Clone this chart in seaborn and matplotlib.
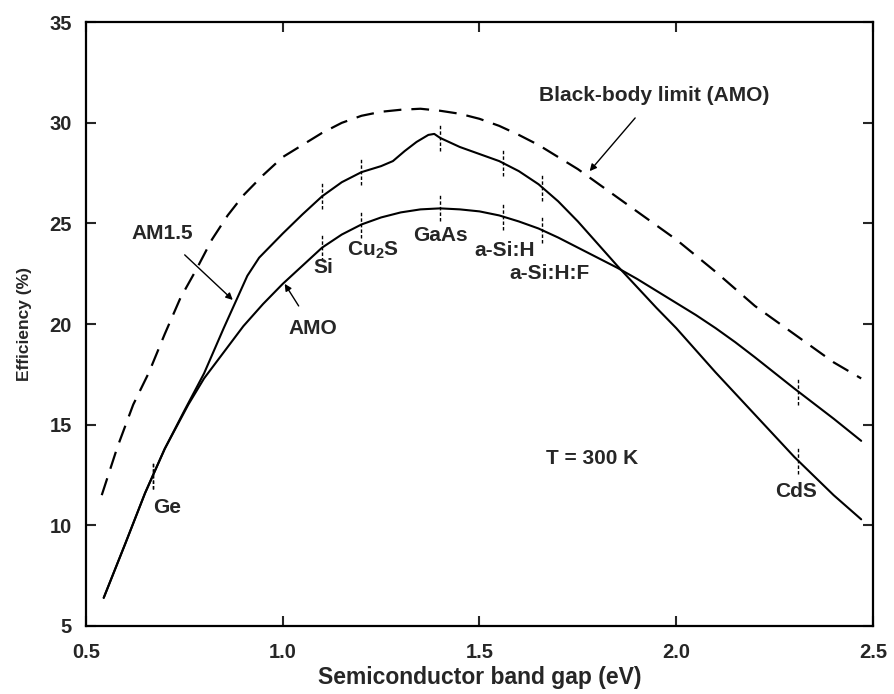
import numpy as np
import pandas as pd
import matplotlib
matplotlib.use("Agg")
import matplotlib.pyplot as plt
import seaborn as sns

# ---- data ----
bb_x = [0.54, 0.58, 0.62, 0.66, 0.70, 0.74, 0.78, 0.82, 0.86, 0.90, 0.95, 1.00,
        1.05, 1.10, 1.15, 1.20, 1.25, 1.30, 1.35, 1.40, 1.45, 1.50, 1.55, 1.60,
        1.65, 1.70, 1.75, 1.80, 1.85, 1.90, 1.95, 2.00, 2.05, 2.10, 2.15, 2.20,
        2.25, 2.30, 2.35, 2.40, 2.47]
bb_y = [11.5, 13.9, 16.0, 17.6, 19.5, 21.3, 22.7, 24.2, 25.4, 26.4, 27.4, 28.3,
        28.9, 29.5, 30.0, 30.35, 30.55, 30.65, 30.7, 30.6, 30.45, 30.2, 29.85, 29.4,
        28.9, 28.3, 27.7, 27.0, 26.3, 25.6, 24.9, 24.2, 23.4, 22.6, 21.75, 20.9,
        20.2, 19.5, 18.8, 18.1, 17.3]

am15_x = [0.545, 0.60, 0.65, 0.70, 0.75, 0.80, 0.85, 0.88, 0.91, 0.94, 0.97, 1.00,
          1.05, 1.10, 1.15, 1.20, 1.25, 1.28, 1.31, 1.34, 1.37, 1.385, 1.40, 1.45,
          1.50, 1.55, 1.60, 1.65, 1.70, 1.75, 1.80, 1.85, 1.90, 1.95, 2.00, 2.05,
          2.10, 2.15, 2.20, 2.30, 2.40, 2.47]
am15_y = [6.4, 9.1, 11.6, 13.8, 15.7, 17.55, 19.8, 21.1, 22.4, 23.3, 23.9, 24.5,
          25.45, 26.35, 27.05, 27.55, 27.85, 28.1, 28.6, 29.05, 29.4, 29.45, 29.25, 28.8,
          28.45, 28.1, 27.6, 26.95, 26.1, 25.1, 24.0, 22.9, 21.85, 20.8, 19.8, 18.7,
          17.6, 16.55, 15.5, 13.4, 11.5, 10.3]

am0_x = [0.545, 0.60, 0.65, 0.70, 0.76, 0.80, 0.85, 0.90, 0.95, 1.00, 1.05, 1.10,
         1.15, 1.20, 1.25, 1.30, 1.35, 1.40, 1.45, 1.50, 1.55, 1.60, 1.65, 1.70,
         1.75, 1.80, 1.85, 1.90, 1.95, 2.00, 2.05, 2.10, 2.15, 2.20, 2.30, 2.40, 2.47]
am0_y = [6.4, 9.1, 11.6, 13.8, 16.0, 17.3, 18.6, 19.9, 21.0, 22.0, 22.9, 23.8,
         24.45, 24.95, 25.3, 25.55, 25.7, 25.75, 25.7, 25.6, 25.4, 25.1, 24.75, 24.3,
         23.8, 23.3, 22.8, 22.25, 21.65, 21.05, 20.45, 19.8, 19.1, 18.35, 16.8, 15.3, 14.2]

materials = ["Ge", "Si", "Cu$_\\mathbf{2}$S", "GaAs", "a-Si:H", "a-Si:H:F", "CdS"]
mat_gap = [0.67, 1.10, 1.20, 1.40, 1.56, 1.66, 2.31]

x_ticks = [0.5, 1.0, 1.5, 2.0, 2.5]
x_ticklabels = ["0.5", "1.0", "1.5", "2.0", "2.5"]
y_ticks = [5, 10, 15, 20, 25, 30, 35]

# ---- style ----
sns.set_theme(style="ticks")
plt.rcParams["font.family"] = ["Liberation Sans", "DejaVu Sans"]
plt.rcParams["font.weight"] = "bold"
plt.rcParams["mathtext.fontset"] = "custom"
plt.rcParams["mathtext.rm"] = "Liberation Sans:bold"
plt.rcParams["mathtext.bf"] = "Liberation Sans:bold"

fig = plt.figure(figsize=(8.94, 6.94), dpi=100)
ax = fig.add_axes([0.0962, 0.098, 0.8803, 0.870])

sns.lineplot(x=bb_x, y=bb_y, ax=ax, color="black", linewidth=1.6,
             linestyle=(0, (8, 4.5)), sort=False, estimator=None)
sns.lineplot(x=am15_x, y=am15_y, ax=ax, color="black", linewidth=1.5,
             sort=False, estimator=None)
sns.lineplot(x=am0_x, y=am0_y, ax=ax, color="black", linewidth=1.5,
             sort=False, estimator=None)

# small vertical marks at material band gaps on both curves
for name, g in zip(materials, mat_gap):
    for cx, cy in ((am15_x, am15_y), (am0_x, am0_y)):
        yv = np.interp(g, cx, cy)
        ax.vlines(g, yv - 0.65, yv + 0.65, color="black", linewidth=1.0,
                  linestyles=(0, (2.5, 1.5)))

ax.set_xlim(0.5, 2.5)
ax.set_ylim(5, 35)
ax.set_xticks(x_ticks)
ax.set_xticklabels(x_ticklabels)
ax.set_yticks(y_ticks)
ax.tick_params(direction="in", length=7, width=1.5, top=True, right=True,
               labelsize=14.5)
ax.tick_params(axis="x", pad=12)
ax.tick_params(axis="y", pad=10)
for lab in ax.get_xticklabels() + ax.get_yticklabels():
    lab.set_fontweight("bold")
for sp in ax.spines.values():
    sp.set_linewidth(1.6)
    sp.set_color("black")

ax.set_xlabel("Semiconductor band gap (eV)", fontsize=16.5, fontweight="bold", labelpad=3)
ax.set_ylabel("Efficiency (%)", fontsize=12.5, fontweight="bold", labelpad=13)

fs = 15
fw = "bold"
label_pos = [(0.705, 10.9), (1.102, 22.8), (1.228, 23.65), (1.40, 24.4),
             (1.563, 23.65), (1.678, 22.5), (2.305, 11.7)]
for name, (tx, ty) in zip(materials, label_pos):
    ax.text(tx, ty, name, fontsize=fs, fontweight=fw, ha="center", va="center")
ax.text(1.787, 13.3, "T = 300 K", fontsize=fs, fontweight=fw, ha="center", va="center")

ax.annotate("Black-body limit (AMO)", xy=(1.78, 27.6), xytext=(1.944, 31.35),
            fontsize=fs, fontweight=fw, ha="center", va="center",
            arrowprops=dict(arrowstyle="-|>", color="black", lw=1.0,
                            shrinkA=9, shrinkB=0, mutation_scale=10))
ax.annotate("AM1.5", xy=(0.873, 21.2), xytext=(0.693, 24.5),
            fontsize=fs, fontweight=fw, ha="center", va="center",
            arrowprops=dict(arrowstyle="-|>", color="black", lw=1.0,
                            shrinkA=9, shrinkB=0, mutation_scale=10))
ax.annotate("AMO", xy=(1.005, 22.0), xytext=(1.076, 19.8),
            fontsize=fs, fontweight=fw, ha="center", va="center",
            arrowprops=dict(arrowstyle="-|>", color="black", lw=1.0,
                            shrinkA=8, shrinkB=0, mutation_scale=10))

fig.savefig("out.png", dpi=100)
